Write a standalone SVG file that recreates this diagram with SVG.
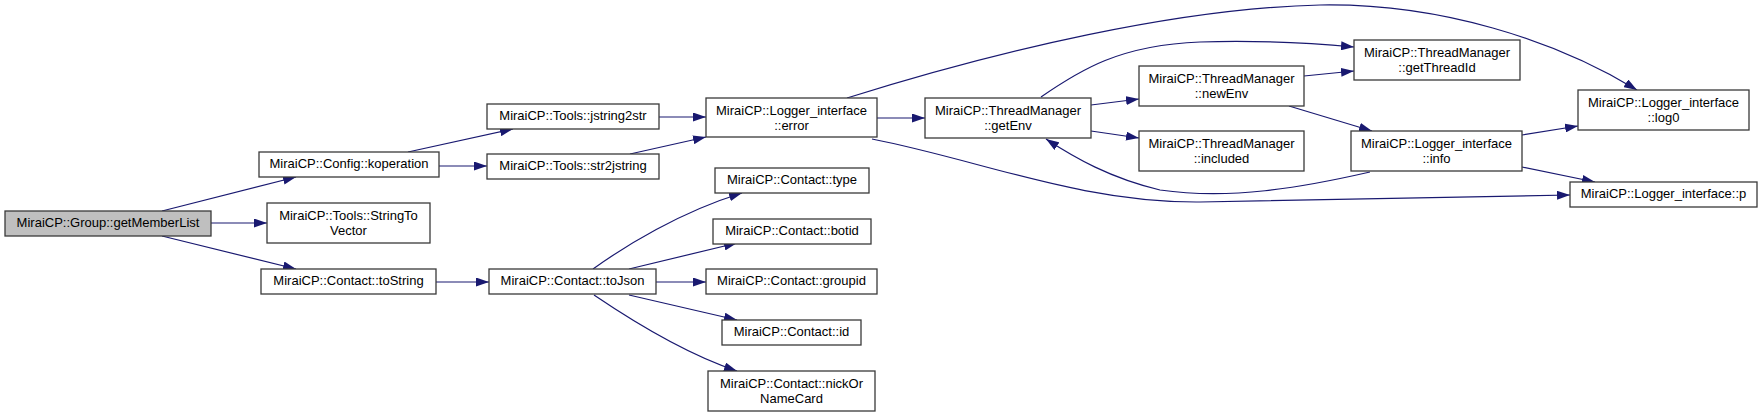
<svg xmlns="http://www.w3.org/2000/svg" width="1763" height="417" viewBox="0 0 1763 417">
<style>
.n rect{fill:#ffffff;stroke:#3a3a3a;stroke-width:1.3}
.n.root rect{fill:#bfbfbf}
.n text{font-family:"Liberation Sans",Arial,sans-serif;font-size:13px;fill:#000;text-anchor:middle}
.e path{fill:none;stroke:#191970;stroke-width:1.2}
</style>
<defs>
<marker id="ah" viewBox="0 0 10 7" refX="10" refY="3.5" markerWidth="13" markerHeight="9" markerUnits="userSpaceOnUse" orient="auto" preserveAspectRatio="none">
<path d="M0,0 L10,3.5 L0,7 z" fill="#191970"/>
</marker>
</defs>
<rect x="0" y="0" width="1763" height="417" fill="#ffffff"/>
<g id="edges" class="e">
<path marker-end="url(#ah)" d="M162,211 L296,177"/>
<path marker-end="url(#ah)" d="M211,223 L267,223"/>
<path marker-end="url(#ah)" d="M162,236 L296,269"/>
<path marker-end="url(#ah)" d="M408,152 L513,129"/>
<path marker-end="url(#ah)" d="M439,166 L487,166"/>
<path marker-end="url(#ah)" d="M659,117 L706,117"/>
<path marker-end="url(#ah)" d="M630,154 L706,137"/>
<path marker-end="url(#ah)" d="M877,118 L925,118"/>
<path marker-end="url(#ah)" d="M847,98 C1000,50 1180,8 1320,5 C1440,3 1555,40 1637,90"/>
<path marker-end="url(#ah)" d="M872,139 C980,160 1080,203 1200,202 L1570,195"/>
<path marker-end="url(#ah)" d="M1041,97 C1080,70 1120,45 1200,42 C1260,40 1310,43 1354,47"/>
<path marker-end="url(#ah)" d="M1091,105 L1139,99"/>
<path marker-end="url(#ah)" d="M1091,131 L1139,138"/>
<path marker-end="url(#ah)" d="M1304,76 L1354,71"/>
<path marker-end="url(#ah)" d="M1289,106 L1372,131"/>
<path marker-end="url(#ah)" d="M1370,172 C1300,188 1230,200 1160,190 C1110,178 1075,158 1046,139"/>
<path marker-end="url(#ah)" d="M1522,135 L1578,126"/>
<path marker-end="url(#ah)" d="M1522,167 L1595,182"/>
<path marker-end="url(#ah)" d="M436,282 L489,282"/>
<path marker-end="url(#ah)" d="M593,269 C625,246 680,212 742,193"/>
<path marker-end="url(#ah)" d="M629,269 L737,243"/>
<path marker-end="url(#ah)" d="M656,282 L706,282"/>
<path marker-end="url(#ah)" d="M629,295 L737,320"/>
<path marker-end="url(#ah)" d="M594,295 C625,316 680,352 737,371"/>
</g>
<g id="getMemberList" class="n root"><rect x="5" y="211" width="206" height="25"/><text x="108" y="227">MiraiCP::Group::getMemberList</text></g>
<g id="koperation" class="n"><rect x="259" y="152" width="180" height="25"/><text x="349" y="168">MiraiCP::Config::koperation</text></g>
<g id="StringToVector" class="n"><rect x="267" y="203" width="163" height="40"/><text x="348.5" y="219.5">MiraiCP::Tools::StringTo</text><text x="348.5" y="234.5">Vector</text></g>
<g id="toString" class="n"><rect x="261" y="269" width="175" height="25"/><text x="348.5" y="285">MiraiCP::Contact::toString</text></g>
<g id="jstring2str" class="n"><rect x="487" y="104" width="172" height="25"/><text x="573" y="120">MiraiCP::Tools::jstring2str</text></g>
<g id="str2jstring" class="n"><rect x="487" y="154" width="172" height="25"/><text x="573" y="170">MiraiCP::Tools::str2jstring</text></g>
<g id="error" class="n"><rect x="706" y="98" width="171" height="39"/><text x="791.5" y="114.5">MiraiCP::Logger_interface</text><text x="791.5" y="129.5">::error</text></g>
<g id="type" class="n"><rect x="715" y="168" width="154" height="25"/><text x="792" y="184">MiraiCP::Contact::type</text></g>
<g id="botid" class="n"><rect x="713" y="219" width="158" height="25"/><text x="792" y="235">MiraiCP::Contact::botid</text></g>
<g id="toJson" class="n"><rect x="489" y="269" width="167" height="25"/><text x="572.5" y="285">MiraiCP::Contact::toJson</text></g>
<g id="groupid" class="n"><rect x="706" y="269" width="171" height="25"/><text x="791.5" y="285">MiraiCP::Contact::groupid</text></g>
<g id="id" class="n"><rect x="722" y="320" width="139" height="25"/><text x="791.5" y="336">MiraiCP::Contact::id</text></g>
<g id="nickOrNameCard" class="n"><rect x="708" y="371" width="167" height="40"/><text x="791.5" y="387.5">MiraiCP::Contact::nickOr</text><text x="791.5" y="402.5">NameCard</text></g>
<g id="getEnv" class="n"><rect x="925" y="98" width="166" height="40"/><text x="1008" y="114.5">MiraiCP::ThreadManager</text><text x="1008" y="129.5">::getEnv</text></g>
<g id="newEnv" class="n"><rect x="1139" y="66" width="165" height="40"/><text x="1221.5" y="82.5">MiraiCP::ThreadManager</text><text x="1221.5" y="97.5">::newEnv</text></g>
<g id="included" class="n"><rect x="1139" y="131" width="165" height="40"/><text x="1221.5" y="147.5">MiraiCP::ThreadManager</text><text x="1221.5" y="162.5">::included</text></g>
<g id="getThreadId" class="n"><rect x="1354" y="40" width="166" height="40"/><text x="1437" y="56.5">MiraiCP::ThreadManager</text><text x="1437" y="71.5">::getThreadId</text></g>
<g id="log0" class="n"><rect x="1578" y="90" width="171" height="40"/><text x="1663.5" y="106.5">MiraiCP::Logger_interface</text><text x="1663.5" y="121.5">::log0</text></g>
<g id="info" class="n"><rect x="1351" y="131" width="171" height="40"/><text x="1436.5" y="147.5">MiraiCP::Logger_interface</text><text x="1436.5" y="162.5">::info</text></g>
<g id="p" class="n"><rect x="1570" y="182" width="187" height="25"/><text x="1663.5" y="198">MiraiCP::Logger_interface::p</text></g>
</svg>
